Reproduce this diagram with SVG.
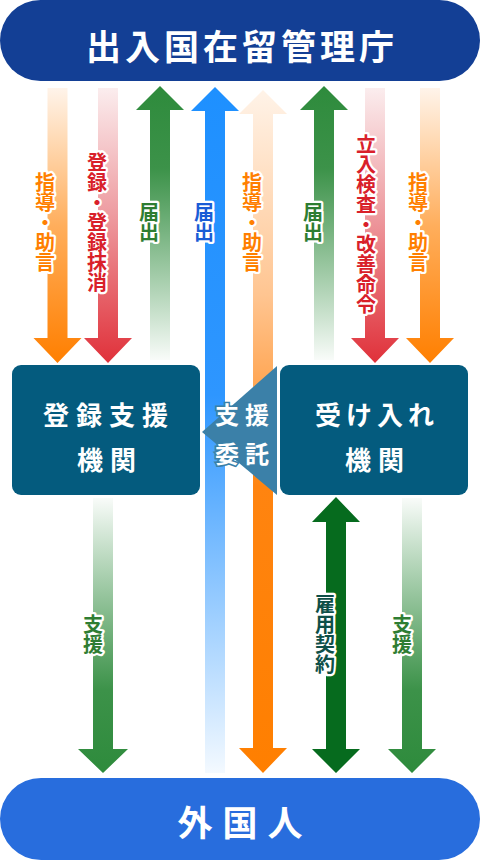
<svg xmlns="http://www.w3.org/2000/svg" width="480" height="860" viewBox="0 0 480 860">
<style>
.t{font-family:"Noto Sans CJK JP","Noto Sans CJK SC",sans-serif;font-weight:bold;fill:#fff;text-anchor:middle;dominant-baseline:central}
.lab{font-family:"Noto Sans CJK JP","Noto Sans CJK SC",sans-serif;font-weight:bold;font-size:20px;writing-mode:vertical-rl;text-anchor:middle;dominant-baseline:central;stroke:#fff;stroke-width:4.5px;stroke-linejoin:round;paint-order:stroke}
.or{fill:#FF7F00}.rd{fill:#D9202A}.gr{fill:#2E7D32}.bl{fill:#1A5CD6}.dk{fill:#0E4F48}
</style>
<defs>
<linearGradient id="gOrDown" x1="0" y1="0" x2="0" y2="1">
<stop offset="0" stop-color="#FFF4EA"/><stop offset="0.5" stop-color="#FFAE5C"/><stop offset="1" stop-color="#FF7F00"/>
</linearGradient>
<linearGradient id="gRdDown" x1="0" y1="0" x2="0" y2="1">
<stop offset="0" stop-color="#FBEDEE"/><stop offset="0.45" stop-color="#EE9DA2"/><stop offset="1" stop-color="#E0313A"/>
</linearGradient>
<linearGradient id="gGrUp" x1="0" y1="0" x2="0" y2="1">
<stop offset="0" stop-color="#2E8B3C"/><stop offset="0.3" stop-color="#3C9249"/><stop offset="1" stop-color="#2E8B3C" stop-opacity="0.03"/>
</linearGradient>
<linearGradient id="gGrDown" x1="0" y1="0" x2="0" y2="1">
<stop offset="0" stop-color="#2E8B3C" stop-opacity="0.03"/><stop offset="0.7" stop-color="#3C9249"/><stop offset="1" stop-color="#2E8B3C"/>
</linearGradient>
<linearGradient id="gBl" x1="0" y1="0" x2="0" y2="1">
<stop offset="0" stop-color="#1E90FF"/><stop offset="0.45" stop-color="#2E96FF"/><stop offset="1" stop-color="#1E90FF" stop-opacity="0.05"/>
</linearGradient>
<linearGradient id="gOrLong" x1="0" y1="0" x2="0" y2="1">
<stop offset="0" stop-color="#FFF3E8"/><stop offset="0.3" stop-color="#FFC591"/><stop offset="0.58" stop-color="#FF8410"/><stop offset="1" stop-color="#FF7F00"/>
</linearGradient>
</defs>

<g id="connectors">
<path id="a-or1" fill="url(#gOrDown)" d="M47.5,88H67.5V338H81.5L57.5,363L33.5,338H47.5Z"/>
<path id="a-rd1" fill="url(#gRdDown)" d="M98,88H118V338H132L108,363L84,338H98Z"/>
<path id="a-gr1" fill="url(#gGrUp)" d="M160,86L184,110H170V360H150V110H136Z"/>
<path id="a-bl" fill="url(#gBl)" d="M215,87L239,111H225V773H205V111H191Z"/>
<path id="a-or2" fill="url(#gOrLong)" d="M263,90L287,114H273V748H287L263,773L239,748H253V114H239Z"/>
<path id="a-gr2" fill="url(#gGrUp)" d="M324,86L348,110H334V360H314V110H300Z"/>
<path id="a-rd2" fill="url(#gRdDown)" d="M365,88H385V338H399L375,363L351,338H365Z"/>
<path id="a-or3" fill="url(#gOrDown)" d="M420,88H440V338H454L430,363L406,338H420Z"/>
<path id="a-gr3" fill="url(#gGrDown)" d="M93,498H113V749H128L103,773L78,749H93Z"/>
<path id="a-dg" fill="#066B1E" d="M336,497L360,522H346V749H360L336,773L312,749H326V522H312Z"/>
<path id="a-gr4" fill="url(#gGrDown)" d="M402,498H422V749H436L412,773L388,749H402Z"/>
<path id="callout" fill="#3B80A8" d="M202,432L277,366V495Z"/>
</g>

<g id="labels">
<text class="lab or" x="45" y="222">指導・助言</text>
<text class="lab rd" x="97" y="222">登録・登録抹消</text>
<text class="lab gr" x="149" y="222">届出</text>
<text class="lab bl" x="204" y="222">届出</text>
<text class="lab or" x="252" y="222">指導・助言</text>
<text class="lab gr" x="313" y="222">届出</text>
<text class="lab rd" x="366" y="224">立入検査・改善命令</text>
<text class="lab or" x="418" y="222">指導・助言</text>
<text class="lab gr" x="93" y="634">支援</text>
<text class="lab dk" x="325" y="634">雇用契約</text>
<text class="lab gr" x="402" y="634">支援</text>
<text class="t" x="245" y="413" font-size="24" letter-spacing="6" stroke="#3B80A8" stroke-width="3" paint-order="stroke">支援</text>
<text class="t" x="245" y="452" font-size="24" letter-spacing="6" stroke="#3B80A8" stroke-width="3" paint-order="stroke">委託</text>
</g>

<g id="node-immigration">
<rect x="0" y="0" width="480" height="81" rx="40.5" fill="#133F95"/>
<text class="t" x="242" y="44" font-size="35" letter-spacing="4">出入国在留管理庁</text>
</g>

<g id="node-registered-support">
<rect x="12" y="365" width="188" height="130" rx="9" fill="#045B7E"/>
<text class="t" x="109" y="413" font-size="26" letter-spacing="7">登録支援</text>
<text class="t" x="110" y="458" font-size="26" letter-spacing="7">機関</text>
</g>

<g id="node-accepting">
<rect x="280" y="365" width="188" height="130" rx="9" fill="#045B7E"/>
<text class="t" x="377" y="413" font-size="26" letter-spacing="5">受け入れ</text>
<text class="t" x="378" y="458" font-size="26" letter-spacing="7">機関</text>
</g>

<g id="node-foreigner">
<rect x="0" y="778" width="480" height="82" rx="41" fill="#286DDD"/>
<text class="t" x="245" y="820" font-size="35" letter-spacing="10">外国人</text>
</g>
</svg>
